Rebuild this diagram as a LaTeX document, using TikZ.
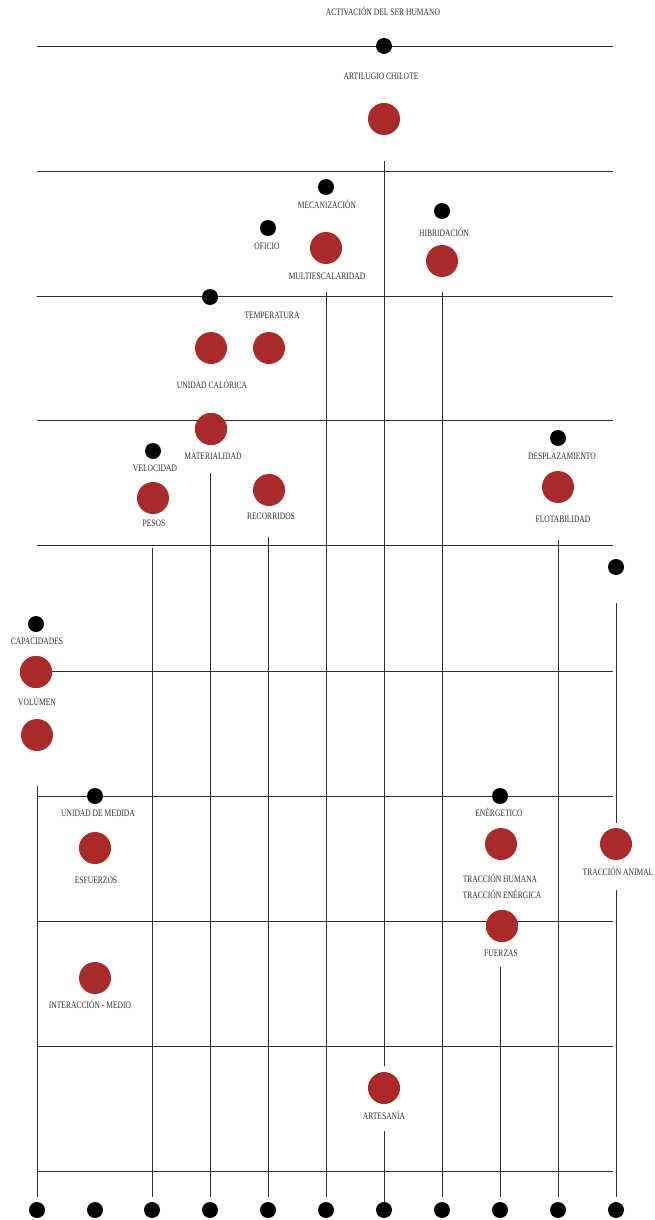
\documentclass[tikz,border=0pt]{standalone}
\usepackage{fontspec}
\setmainfont[FakeStretch=0.77]{Liberation Serif}
\definecolor{dotred}{HTML}{AA2A2A}
\definecolor{ink}{HTML}{2E2E2E}
\tikzset{
  gridline/.style={draw=ink, line width=0.8pt},
  blackdot/.style={circle, fill=black, inner sep=0pt, minimum size=16pt},
  reddot/.style={circle, fill=dotred, inner sep=0pt, minimum size=32pt},
  lbl/.style={font=\fontsize{9.8}{11}\selectfont, text=ink, inner sep=0pt,
    text height=6.5pt, text depth=0pt, align=center},
}
\begin{document}
\begin{tikzpicture}[x=1pt,y=-1pt]
\useasboundingbox (0,0) rectangle (654,1220);

% horizontal lines
\foreach \yy [count=\i] in {46,171,296,420,545,671,796,921,1046,1171}{
  \coordinate (hl\i) at (37,\yy);
  \coordinate (hr\i) at (613,\yy);
  \draw[gridline] (hl\i) -- (hr\i);
}

% bottom dots
\foreach \xx [count=\i] in {37,95,152,210,268,326,384,442,500,558,616}{
  \node[blackdot] (b\i) at (\xx,1210) {};
}

% red circles
\node[reddot] (r1)  at (384,119) {};
\node[reddot] (r2)  at (326,248) {};
\node[reddot] (r3)  at (442,261) {};
\node[reddot] (r4)  at (211,348) {};
\node[reddot] (r5)  at (269,348) {};
\node[reddot] (r6)  at (211,429) {};
\node[reddot] (r7)  at (153,498) {};
\node[reddot] (r8)  at (269,490) {};
\node[reddot] (r9)  at (558,487) {};
\node[reddot] (r10) at (36,672) {};
\node[reddot] (r11) at (37,735) {};
\node[reddot] (r12) at (95,848) {};
\node[reddot] (r13) at (95,978) {};
\node[reddot] (r14) at (501,844) {};
\node[reddot] (r15) at (502,926) {};
\node[reddot] (r16) at (616,844) {};
\node[reddot] (r17) at (384,1088) {};

% vertical lines
\coordinate (v1) at (37,786);
\coordinate (v3) at (152,548);
\coordinate (v4) at (210,473);
\coordinate (v5) at (268,537);
\coordinate (v6) at (326,292);
\coordinate (v7) at (384,161);
\coordinate (v7b) at (384,1131);
\coordinate (v8) at (442,292);
\coordinate (v9) at (500,967);
\coordinate (v10) at (558,540);
\coordinate (v11) at (616,603);
\coordinate (v11b) at (616,890);
\foreach \i in {1,3,4,5,6,8,9,10}{
  \draw[gridline, shorten >=5pt] (v\i) -- (b\i.north);
}
\draw[gridline, shorten >=6pt] (v7) -- (r17.north);
\draw[gridline] (v7b) -- (b7.north);
\draw[gridline, shorten >=5pt] (v11) -- (r16.north);
\draw[gridline, shorten >=5pt] (v11b) -- (b11.north);

% redraw circles above lines
\node[reddot] at (r10) {};
\node[reddot] at (r15) {};
\node[reddot] at (r6) {};

% black dots
\node[blackdot] (d1)  at (384,46) {};
\node[blackdot] (d2)  at (326,187) {};
\node[blackdot] (d3)  at (268,228) {};
\node[blackdot] (d4)  at (442,211) {};
\node[blackdot] (d5)  at (210,297) {};
\node[blackdot] (d6)  at (153,451) {};
\node[blackdot] (d7)  at (558,438) {};
\node[blackdot] (d8)  at (616,567) {};
\node[blackdot] (d9)  at (36,624) {};
\node[blackdot] (d10) at (95,796) {};
\node[blackdot] (d11) at (500,796) {};

% labels
\node[lbl] (t1)  at (383,12)   {ACTIVACIÓN DEL SER HUMANO};
\node[lbl] (t2)  at (381,76)   {ARTILUGIO CHILOTE};
\node[lbl] (t3)  at (327,205)  {MECANIZACIÓN};
\node[lbl] (t4)  at (267,246)  {OFICIO};
\node[lbl] (t5)  at (444,233)  {HIBRIDACIÓN};
\node[lbl] (t6)  at (327,276)  {MULTIESCALARIDAD};
\node[lbl] (t7)  at (272,315)  {TEMPERATURA};
\node[lbl] (t8)  at (212,385)  {UNIDAD CALÓRICA};
\node[lbl] (t9)  at (213,456)  {MATERIALIDAD};
\node[lbl] (t10) at (155,468)  {VELOCIDAD};
\node[lbl] (t11) at (154,523)  {PESOS};
\node[lbl] (t12) at (271,516)  {RECORRIDOS};
\node[lbl] (t13) at (562,456)  {DESPLAZAMIENTO};
\node[lbl] (t14) at (563,519)  {FLOTABILIDAD};
\node[lbl] (t15) at (37,641)   {CAPACIDADES};
\node[lbl] (t16) at (37,702)   {VOLÚMEN};
\node[lbl] (t17) at (98,813)   {UNIDAD DE MEDIDA};
\node[lbl] (t18) at (96,880)   {ESFUERZOS};
\node[lbl] (t19) at (90,1005)  {INTERACCIÓN - MEDIO};
\node[lbl] (t20) at (499,813)  {ENÉRGETICO};
\node[lbl] (t21) at (500,879)  {TRACCIÓN HUMANA};
\node[lbl] (t22) at (502,895)  {TRACCIÓN ENÉRGICA};
\node[lbl] (t23) at (501,953)  {FUERZAS};
\node[lbl] (t24) at (618,872)  {TRACCIÓN ANIMAL};
\node[lbl] (t25) at (384,1116) {ARTESANÍA};
\end{tikzpicture}
\end{document}
